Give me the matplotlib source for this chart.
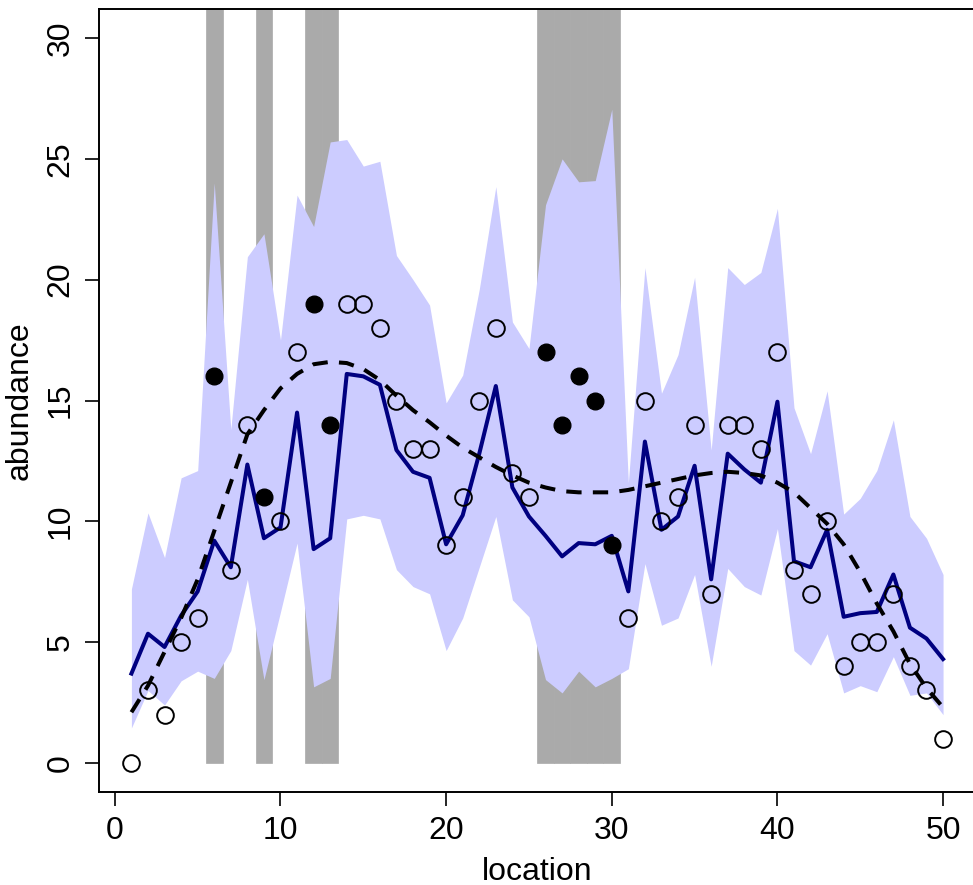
import matplotlib
matplotlib.use("Agg")
import matplotlib.pyplot as plt

# observed counts at each location, plus held-out (shaded) locations
locations = list(range(1, 51))
counts = [0, 3, 2, 5, 6, 16, 8, 14, 11, 10, 17, 19, 14, 19, 19, 18, 15, 13, 13, 9,
          11, 15, 18, 12, 11, 17, 14, 16, 15, 9, 6, 15, 10, 11, 14, 7, 14, 14, 13, 17,
          8, 7, 10, 4, 5, 5, 7, 4, 3, 1]
held_out = [6, 9, 12, 13, 26, 27, 28, 29, 30]

# posterior mean and interval
pred_mean = [3.7, 5.35, 4.8, 6.1, 7.1, 9.2, 8.1, 12.35, 9.3, 9.75, 14.5, 8.85, 9.3, 16.1,
             16.0, 15.65, 12.95, 12.05, 11.8, 9.05, 10.25, 12.8, 15.6, 11.4, 10.2, 9.4,
             8.55, 9.1, 9.05, 9.4, 7.1, 13.3, 9.65, 10.2, 12.3, 7.6, 12.8, 12.15, 11.6,
             14.95, 8.35, 8.1, 9.65, 6.05, 6.2, 6.25, 7.8, 5.6, 5.15, 4.3]
pred_lower = [1.45, 3.0, 2.4, 3.4, 3.8, 3.5, 4.65, 7.6, 3.45, 6.25, 9.1, 3.15, 3.5, 10.1,
              10.25, 10.1, 8.0, 7.3, 7.0, 4.65, 6.0, 8.1, 10.2, 6.75, 6.05, 3.45, 2.9,
              3.8, 3.15, 3.5, 3.9, 8.25, 5.7, 6.0, 7.8, 4.0, 8.05, 7.3, 6.95, 9.7, 4.65,
              4.05, 5.35, 2.9, 3.2, 2.95, 4.4, 2.8, 2.9, 2.0]
pred_upper = [7.2, 10.35, 8.5, 11.8, 12.1, 24.0, 13.8, 20.95, 21.9, 17.5, 23.5, 22.2,
              25.7, 25.8, 24.7, 24.9, 21.0, 20.0, 18.95, 14.9, 16.05, 19.6, 23.85, 18.25,
              17.15, 23.1, 25.0, 24.05, 24.1, 27.05, 11.6, 20.5, 15.3, 16.9, 20.1, 12.95,
              20.5, 19.8, 20.3, 22.95, 14.7, 12.8, 15.4, 10.3, 10.95, 12.1, 14.2, 10.2,
              9.3, 7.8]

# true smooth mean
true_mean = [2.1, 3.2, 4.6, 6.0, 7.6, 9.6, 11.6, 13.6, 14.6, 15.5, 16.1, 16.5, 16.6,
             16.55, 16.3, 15.85, 15.2, 14.6, 14.1, 13.55, 13.05, 12.65, 12.25, 11.9,
             11.6, 11.4, 11.25, 11.2, 11.2, 11.2, 11.3, 11.45, 11.6, 11.75, 11.9, 12.0,
             12.05, 12.0, 11.9, 11.6, 11.2, 10.55, 9.9, 9.05, 7.9, 6.6, 5.45, 4.1, 3.1,
             2.3]

plt.rcParams['font.family'] = ['Liberation Sans', 'DejaVu Sans']
plt.rcParams['font.size'] = 23

fig = plt.figure(figsize=(9.73, 8.85), dpi=100)
ax = fig.add_axes([0.1017, 0.1051, 0.9009, 0.8847])

ax.bar(held_out, 40, width=1.0, bottom=0, color='#AAAAAA', edgecolor='#AAAAAA',
       linewidth=0.5, zorder=1)
ax.fill_between(locations, pred_lower, pred_upper, color='#CCCCFF', linewidth=0, zorder=2)
ax.plot(locations, pred_mean, color='#000080', linewidth=2.9, zorder=3)
ax.plot(locations, true_mean, color='black', linewidth=2.9, linestyle=(0, (3.8, 2.8)), zorder=4)

obs_x = [l for l in locations if l not in held_out]
obs_y = [c for l, c in zip(locations, counts) if l not in held_out]
ho_y = [c for l, c in zip(locations, counts) if l in held_out]
ax.plot(obs_x, obs_y, 'o', markersize=12, markerfacecolor='none',
        markeredgecolor='black', markeredgewidth=1.4, zorder=5)
ax.plot(held_out, ho_y, 'o', markersize=12, color='black', zorder=5)

ax.set_xlim(-0.96, 51.96)
ax.set_ylim(-1.2, 31.2)
ax.set_xticks([0, 10, 20, 30, 40, 50])
ax.set_yticks([0, 5, 10, 15, 20, 25, 30])
ax.tick_params(axis='both', direction='out', length=10, width=1.2, pad=7)
plt.setp(ax.get_yticklabels(), rotation=90, va='center')
for s in ax.spines.values():
    s.set_linewidth(1.4)

ax.set_xlabel('location', labelpad=8)
ax.set_ylabel('abundance', labelpad=8)

fig.savefig('out.png', dpi=100)
